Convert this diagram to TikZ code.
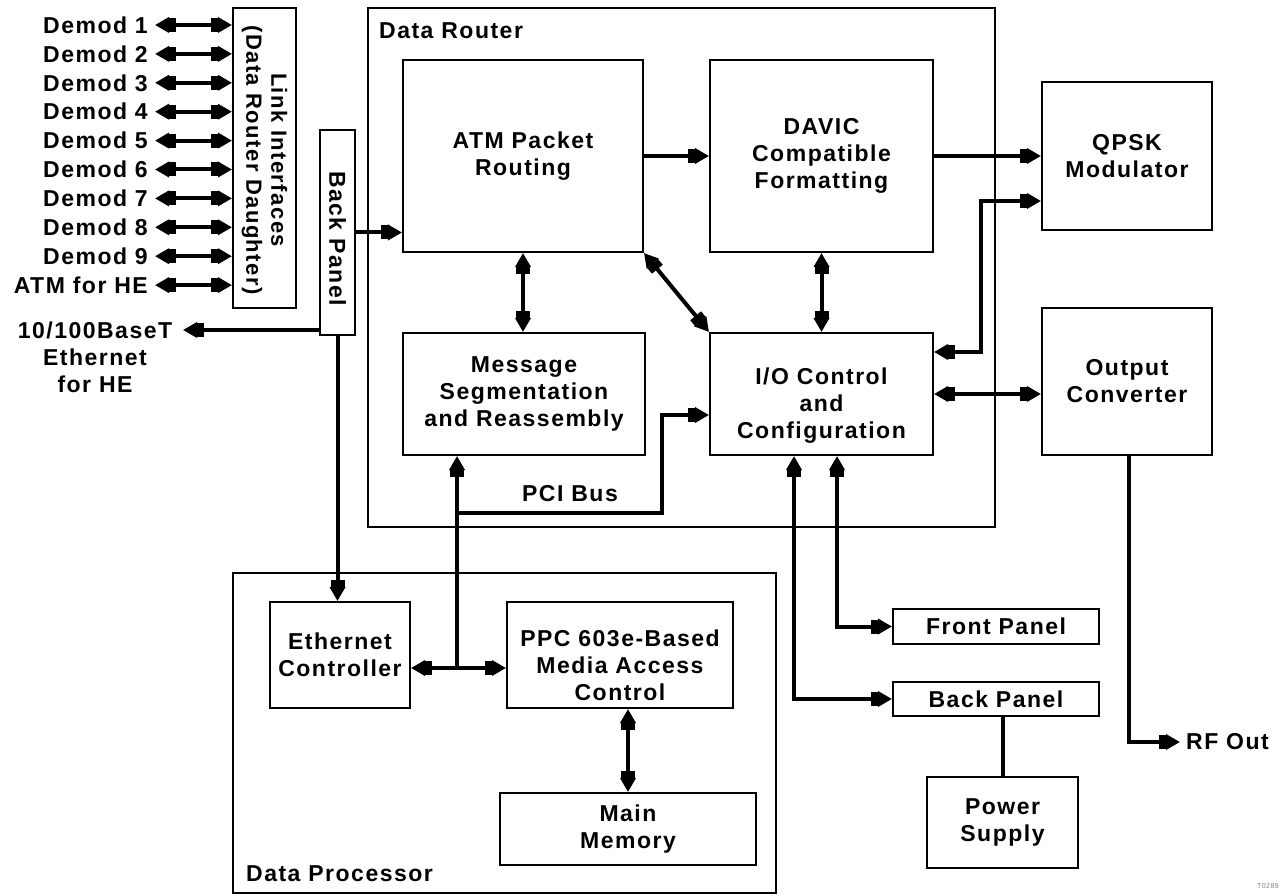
\documentclass[tikz,border=0pt]{standalone}
\usepackage{fontspec}
\setmainfont{Liberation Sans}[LetterSpace=6.5]
\usetikzlibrary{arrows.meta,positioning}
\tikzset{>={Rectangle[length=7pt,width=14pt,sep=0pt]Triangle[length=14pt,width=15pt]}}
\tikzstyle{module} = [draw, line width=2pt, text centered, align=center, inner sep=0pt]
\tikzstyle{enclosure} = [draw, line width=2pt, inner sep=0pt]
\tikzstyle{tag} = [inner sep=0pt, align=center]
\tikzstyle{arrow} = [draw, line width=4pt, ->]
\tikzstyle{biarrow} = [draw, line width=4pt, <->]
\tikzstyle{line} = [draw, line width=4pt]
\newcommand{\module}[4]{node (#1) [module, minimum width=#2pt, minimum height=#3pt] {#4}}
\newcommand{\enclosure}[3]{node (#1) [enclosure, minimum width=#2pt, minimum height=#3pt] {}}
\begin{document}
\begin{tikzpicture}[x=1pt,y=-1pt,font=\fontsize{23}{27}\selectfont\bfseries]
\useasboundingbox (0,0) rectangle (1286,896);
% data router
\path (523,156) \module{atm}{240}{192}{ATM Packet\\Routing};
\path (atm)+(298.5,0) \module{davic}{223}{192}{DAVIC\\Compatible\\Formatting};
\path (davic)+(305.5,0) \module{qpsk}{170}{148}{QPSK\\Modulator};
\path (atm)+(1,238) \module{msg}{242}{122}{Message\\Segmentation\\and Reassembly};
\path (davic)+(0,238) \module{ioc}{223}{122}{};
\path (ioc)+(0,12) node (ioctxt) [tag] {I/O Control\\and\\Configuration};
\path (qpsk)+(0,225.5) \module{outc}{170}{147}{Output\\Converter};
\path (atm)+(158.5,111.5) \enclosure{router}{627}{519};
\path (router.north west)+(12,24) node (routerlbl) [tag, anchor=west] {Data Router};

% left side
\path (atm)+(-258.5,2) \module{link}{63}{300}{};
\path (link)+(0,2) node (linktxt) [tag, rotate=-90, font=\fontsize{22}{25}\selectfont\bfseries] {Link Interfaces\\(Data Router Daughter)};
\path (atm)+(-185.5,76.5) \module{bpl}{35}{205}{};
\path (bpl)+(0,6) node (bpltxt) [tag, rotate=-90] {Back Panel};
\foreach \lbl [count=\i] in {Demod 1,Demod 2,Demod 3,Demod 4,Demod 5,Demod 6,Demod 7,Demod 8,Demod 9,ATM for HE} {
  \path (148,{25+28.9*(\i-1)}) node (dm\i) [tag, anchor=east] {\lbl};
  \path [biarrow] ([xshift=7pt]dm\i.east) -- (link.west |- dm\i.east);
}
\path (95,357) node (hetxt) [tag] {10/100BaseT\\Ethernet\\for HE};
\coordinate (hetip) at (183,330);
\path [arrow] (bpl.west |- hetip) -- (hetip);
\path [arrow] (bpl.east) -- (atm.west |- bpl.east);

% data processor
\path (msg)+(-19.5,339) \enclosure{proc}{543}{320};
\path (proc.south west)+(14,-20) node (proclbl) [tag, anchor=west] {Data Processor};
\path (msg)+(-184,261) \module{eth}{140}{106}{Ethernet\\Controller};
\path (msg)+(96,261) \module{ppc}{226}{106}{};
\path (ppc)+(0,10) node (ppctxt) [tag] {PPC 603e-Based\\Media Access\\Control};
\path (ppc)+(8,174) \module{mem}{256}{72}{Main\\Memory};

% panels and power
\path (ioc)+(174.5,232.5) \module{front}{206}{35}{Front Panel};
\path (front)+(0,72.5) \module{bpr}{206}{34}{Back Panel};
\path (bpr)+(6.5,123.5) \module{power}{151}{91}{Power\\Supply};
\path (outc.south)+(53,286) node (rf) [tag, anchor=west, inner sep=6pt] {RF Out};
\path (1268,886) node (mark) [tag, font=\fontsize{7}{8}\selectfont, gray] {T0289};

% connectors
\path [arrow] (atm.east) -- (davic.west);
\path [arrow] (davic.east) -- (qpsk.west);
\path [biarrow] (atm.south) -- (atm.south |- msg.north);
\path [biarrow] (atm.south east) -- (ioc.north west);
\path [biarrow] (davic.south) -- (ioc.north);
\path [biarrow] ([yshift=-20pt]ioc.north east) -- ++(47,0) |- ([yshift=30pt]qpsk.south west);
\path [biarrow] (ioc.east) -- (outc.west |- ioc.east);
\coordinate (bus) at (457,513);
\coordinate (jn) at (457,668);
\path (bus)+(113,-19) node (pcilbl) [tag] {PCI Bus};
\path [arrow] (jn) -- (jn |- msg.south);
\path [arrow] (bus) -- ++(205,0) |- ([yshift=-21pt]ioc.west);
\path [biarrow] (eth.east |- jn) -- (ppc.west |- jn);
\path [arrow] (bpl.south) -- (bpl.south |- eth.north);
\path [biarrow] (mem.north |- ppc.south) -- (mem.north);
\path [biarrow] ([xshift=15.5pt]ioc.south) |- (front.west);
\path [biarrow] ([xshift=-27.5pt]ioc.south) |- (bpr.west);
\path [line] (power.north |- bpr.south) -- (power.north);
\path [arrow] ([xshift=2pt]outc.south) |- (rf.west);
\end{tikzpicture}
\end{document}
